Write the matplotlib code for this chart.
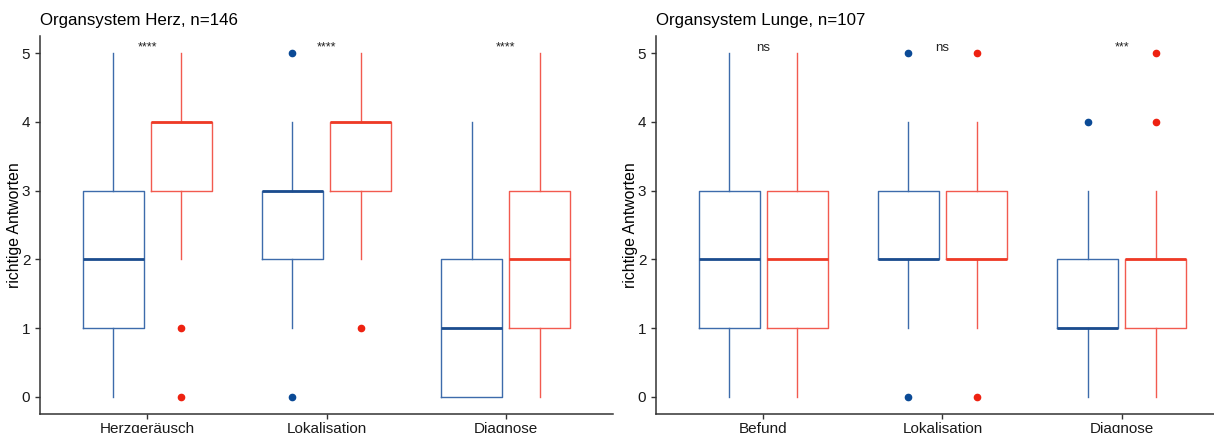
import matplotlib
matplotlib.use("Agg")
import matplotlib.pyplot as plt

plt.rcParams['font.family'] = ['Liberation Sans', 'DejaVu Sans']

# Organsystem Herz
hz_cats = ["Herzgeräusch", "Lokalisation", "Diagnose"]
hz_blue_whislo = [0, 1, 0]
hz_blue_q1 = [1, 2, 0]
hz_blue_med = [2, 3, 1]
hz_blue_q3 = [3, 3, 2]
hz_blue_whishi = [5, 4, 4]
hz_blue_fliers = [[], [5, 0], []]
hz_red_whislo = [2, 2, 0]
hz_red_q1 = [3, 3, 1]
hz_red_med = [4, 4, 2]
hz_red_q3 = [4, 4, 3]
hz_red_whishi = [5, 5, 5]
hz_red_fliers = [[1, 0], [1], []]
hz_sig = ["****", "****", "****"]

# Organsystem Lunge
lu_cats = ["Befund", "Lokalisation", "Diagnose"]
lu_blue_whislo = [0, 1, 0]
lu_blue_q1 = [1, 2, 1]
lu_blue_med = [2, 2, 1]
lu_blue_q3 = [3, 3, 2]
lu_blue_whishi = [5, 4, 3]
lu_blue_fliers = [[], [5, 0], [4]]
lu_red_whislo = [0, 1, 0]
lu_red_q1 = [1, 2, 1]
lu_red_med = [2, 2, 2]
lu_red_q3 = [3, 3, 2]
lu_red_whishi = [5, 4, 3]
lu_red_fliers = [[], [5, 0], [4, 5]]
lu_sig = ["ns", "ns", "***"]

BLUE = "#3d6bab"
BLUE_MED = "#1b4c8e"
BLUE_PT = "#0b4a96"
RED = "#f25a4f"
RED_MED = "#ee3a26"
RED_PT = "#ee2211"


def stats(lo, q1, med, q3, hi, fl):
    return [dict(whislo=lo[i], q1=q1[i], med=med[i], q3=q3[i], whishi=hi[i], fliers=fl[i])
            for i in range(len(lo))]


def draw_group(ax, st, pos, col, medcol, ptcol):
    ax.bxp(st, positions=pos, widths=0.34, showcaps=False,
           boxprops=dict(color=col, linewidth=1.0),
           whiskerprops=dict(color=col, linewidth=1.0),
           medianprops=dict(color=medcol, linewidth=2.0, solid_capstyle='butt'),
           flierprops=dict(marker='o', markerfacecolor=ptcol, markeredgecolor=ptcol,
                           markersize=4.5, linestyle='none'))


def panel(ax, title, cats, blue, red, sig):
    x = list(range(1, len(cats) + 1))
    draw_group(ax, blue, [p - 0.19 for p in x], BLUE, BLUE_MED, BLUE_PT)
    draw_group(ax, red, [p + 0.19 for p in x], RED, RED_MED, RED_PT)
    for p, s in zip(x, sig):
        if s == "ns":
            ax.text(p, 5.07, s, ha='center', va='center', fontsize=9.5, color='#222222')
        else:
            ax.text(p, 5.09, s, ha='center', va='center', fontsize=9, color='#222222')
    ax.set_xlim(0.4, 3.6)
    ax.set_ylim(-0.25, 5.25)
    ax.set_xticks(x)
    ax.set_xticklabels(cats)
    ax.set_yticks([0, 1, 2, 3, 4, 5])
    ax.set_ylabel("richtige Antworten", fontsize=11.3)
    ax.yaxis.set_label_coords(-0.032, 0.5)
    ax.set_title(title, loc='left', fontsize=12.2, pad=8)
    for s in ['top', 'right']:
        ax.spines[s].set_visible(False)
    for s in ['left', 'bottom']:
        ax.spines[s].set_color('#333333')
        ax.spines[s].set_linewidth(1.1)
    ax.tick_params(axis='both', colors='#333333', length=3.5, width=1.0,
                   labelsize=11, labelcolor='#1a1a1a')
    ax.tick_params(axis='x', pad=2)


fig = plt.figure(figsize=(12.14, 4.33), dpi=100)
ax1 = fig.add_axes([40 / 1214, 19 / 433, 573 / 1214, 378 / 433])
ax2 = fig.add_axes([656 / 1214, 19 / 433, 573 / 1214, 378 / 433])

panel(ax1, "Organsystem Herz, n=146", hz_cats,
      stats(hz_blue_whislo, hz_blue_q1, hz_blue_med, hz_blue_q3, hz_blue_whishi, hz_blue_fliers),
      stats(hz_red_whislo, hz_red_q1, hz_red_med, hz_red_q3, hz_red_whishi, hz_red_fliers),
      hz_sig)
panel(ax2, "Organsystem Lunge, n=107", lu_cats,
      stats(lu_blue_whislo, lu_blue_q1, lu_blue_med, lu_blue_q3, lu_blue_whishi, lu_blue_fliers),
      stats(lu_red_whislo, lu_red_q1, lu_red_med, lu_red_q3, lu_red_whishi, lu_red_fliers),
      lu_sig)

fig.savefig("out.png", dpi=100)
